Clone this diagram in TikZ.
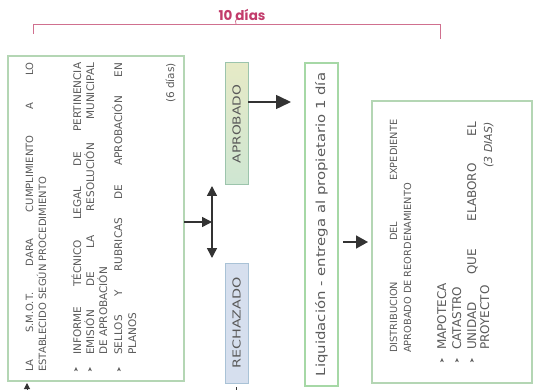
\documentclass[tikz,border=0pt]{standalone}
\usepackage{fontspec}
\usepackage{graphicx}
\setmainfont{DejaVu Sans}
\newfontfamily\pop{Poppins}
\newfontfamily\sym{DejaVu Sans}
\usetikzlibrary{arrows.meta}
\definecolor{txt}{HTML}{5A5A5A}
\definecolor{arr}{HTML}{333333}
\definecolor{pinkred}{HTML}{C23B6B}
\definecolor{brk}{HTML}{D0708F}
\definecolor{gbord}{HTML}{B4D6B4}
\definecolor{lbord}{HTML}{A6D8A6}
\definecolor{apbord}{HTML}{9CC4AC}
\definecolor{rebord}{HTML}{A9C2D6}
\definecolor{refill}{HTML}{D6DFEE}
\tikzset{
  box/.style={draw=gbord, line width=1.4pt, inner sep=0pt, outer sep=0pt, anchor=north west},
  lt/.style={rotate=90, anchor=base west, inner sep=0pt, text=txt, font=\fontsize{10}{11}\selectfont},
  bt/.style={lt, font=\fontsize{10.5}{11}\selectfont},
  rt/.style={lt, font=\fontsize{9.8}{11}\selectfont},
  rbt/.style={lt, font=\fontsize{12}{13}\selectfont},
  bul/.style={rotate=90, anchor=center, inner sep=0pt, text=txt, font=\sym\fontsize{6.5}{7}\selectfont},
  conn/.style={draw=arr, line width=1.5pt},
}
\begin{document}
\begin{tikzpicture}[x=1pt,y=-1pt]
\useasboundingbox (0,0) rectangle (535,390);
\clip (0,0) rectangle (535,390);

% bracket
\coordinate (b1) at (33,34);
\coordinate (b2) at (33,24);
\coordinate (b3) at (440,24);
\coordinate (b4) at (440,39);
\draw[brk, line width=0.8pt] (b1) -- (b2) -- (b3) -- (b4);
\draw[brk, line width=0.8pt] (236,24) .. controls (235,21) .. (238,18);
\node[text=pinkred, font=\pop\fontsize{13.5}{14}\selectfont\bfseries, inner sep=0pt] (dias) at (242,15) {10 días};

% boxes
\node[box, minimum width=176pt, minimum height=325pt] (lbox) at (8,56) {};
\node[box, draw=apbord, line width=1pt, minimum width=23pt, minimum height=122pt,
  top color={rgb,255:red,230;green,234;blue,198}, bottom color={rgb,255:red,206;green,230;blue,210}] (aprob) at (225,63) {};
\node[box, draw=rebord, line width=1pt, fill=refill, minimum width=23pt, minimum height=120pt] (rech) at (225,263) {};
\node[box, draw=lbord, minimum width=33pt, minimum height=323pt] (liq) at (305,63) {};
\node[box, minimum width=160pt, minimum height=282pt] (rbox) at (372,101) {};

% left box text
\node[lt] at (33,372) {\makebox[309pt][s]{LA S.M.O.T. DARA CUMPLIMIENTO A LO}};
\node[lt] at (46,372) {ESTABLECIDO SEGÚN PROCEDIMIENTO};
\node[bul] at (76,370) {➤};
\node[bul] at (90,370) {➤};
\node[bul] at (119,370) {➤};
\node[bt] at (81,355) {\makebox[292pt][s]{INFORME TÉCNICO LEGAL DE PERTINENCIA}};
\node[bt] at (94,355) {\makebox[292pt][s]{EMISIÓN DE LA RESOLUCIÓN MUNICIPAL}};
\node[bt] at (107,355) {DE APROBACIÓN};
\node[bt] at (122,355) {\makebox[292pt][s]{SELLOS Y RUBRICAS DE APROBACIÓN EN}};
\node[bt] at (136,355) {PLANOS};
\node[bt, anchor=base east] at (174,63) {(6 días)};

% middle texts
\node[lt, anchor=center, font=\fontsize{11}{12}\selectfont] at (aprob.center) {\scalebox{1.25}[1]{APROBADO}};
\node[lt, anchor=center, font=\fontsize{11}{12}\selectfont] at (rech.center) {\scalebox{1.3}[1]{RECHAZADO}};
\node[lt, anchor=center, font=\fontsize{12.5}{13}\selectfont] at (liq.center) {\scalebox{1.19}[1]{Liquidación - entrega al propietario 1 día}};

% right box text
\node[rt] at (397,353) {\makebox[233pt][s]{DISTRIBUCION DEL EXPEDIENTE}};
\node[rt] at (411,353) {APROBADO DE REORDENAMIENTO};
\node[bul] at (442,361) {➤};
\node[bul] at (457,361) {➤};
\node[bul] at (472,361) {➤};
\node[rbt] at (446,350) {MAPOTECA};
\node[rbt] at (461,350) {CATASTRO};
\node[rbt] at (476,350) {\makebox[228pt][s]{UNIDAD QUE ELABORO EL}};
\node[rbt] at (489,350) {PROYECTO};
\node[lt, anchor=base east, font=\fontsize{11}{12}\selectfont\itshape] at (492,122) {(3 DIAS)};

% junction
\coordinate (j) at (212,222);
\coordinate (jt) at (212,186);
\coordinate (jb) at (212,258);
\draw[conn, -{Triangle[length=10pt,width=10pt]}] (j -| lbox.east) -- (j);
\draw[conn, {Triangle[length=10pt,width=10pt]}-{Triangle[length=10pt,width=10pt]}] (jt) -- (jb);

% aprobado -> liquidacion
\coordinate (a1) at (0,102);
\draw[conn, shorten >=14pt, -{Triangle[length=15pt,width=14pt]}] (a1 -| aprob.east) -- (a1 -| liq.west);
% liquidacion -> right box
\coordinate (a2) at (0,242);
\draw[conn, shorten <=5pt, shorten >=4pt, -{Triangle[length=12pt,width=13pt]}] (a2 -| liq.east) -- (a2 -| rbox.west);

% partial arrows at bottom edge
\coordinate (p1) at (27,400);
\coordinate (p2) at (27,383);
\draw[conn, line width=1pt, -{Triangle[length=6pt,width=6pt]}] (p1) -- (p2);
\coordinate (p3) at (236,400);
\coordinate (p4) at (236,387);
\draw[conn, line width=1pt] (p3) -- (p4);
\end{tikzpicture}
\end{document}
